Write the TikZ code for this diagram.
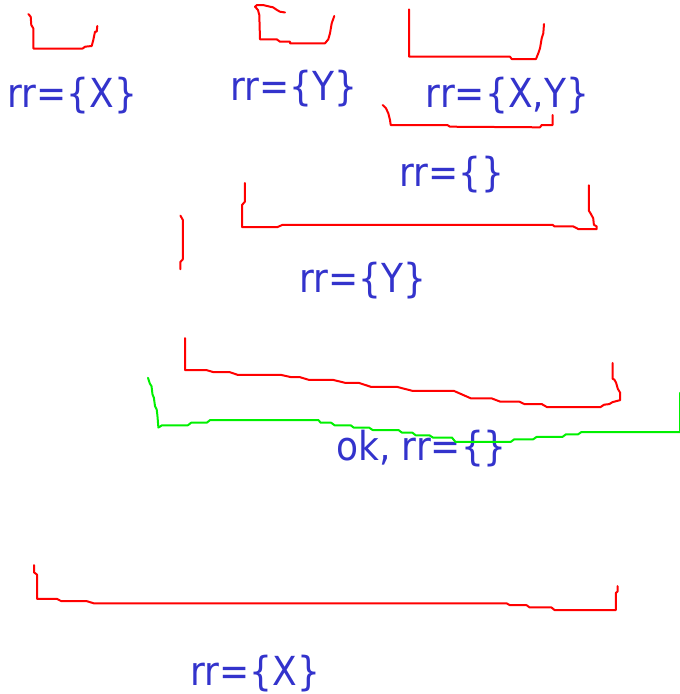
\documentclass[tikz,border=0pt]{standalone}
\usepackage{fontspec}
\newfontfamily\lblfont{DejaVu Sans}[FakeStretch=0.9]
\definecolor{lblblue}{RGB}{51,51,204}
\definecolor{penred}{RGB}{255,0,0}
\definecolor{pengreen}{RGB}{0,240,0}
\tikzset{
  lbl/.style={font=\lblfont\fontsize{40}{44}\selectfont, text=lblblue, inner sep=0pt, anchor=center},
  redpen/.style={draw=penred, line width=2pt, line join=round, line cap=round},
  greenpen/.style={draw=pengreen, line width=2pt, line join=round, line cap=round}
}
\begin{document}
\begin{tikzpicture}[x=1pt,y=-1pt]
\useasboundingbox (0,0) rectangle (680,694);
% labels
\node[lbl] (t1) at (72.5,96) {rr=\{X\}};
\node[lbl] (t2) at (293.5,89) {rr=\{Y\}};
\node[lbl] (t3) at (507.5,96) {rr=\{X,Y\}};
\node[lbl] (t4) at (451.5,175) {rr=\{\}};
\node[lbl] (t5) at (362.5,281) {rr=\{Y\}};
\node[lbl] (t6) at (421.5,449) {ok, rr=\{\}};
\node[lbl] (t7) at (255.5,674) {rr=\{X\}};
% stroke 1
\draw[redpen] (28.3,14) -- (30.7,16.7) -- (31.3,25) -- (33.3,28.3) -- (33.3,48.5) -- (82.7,48.5) -- (85,46.7) -- (91.7,46) -- (93.3,40) -- (95,31.7) -- (96.7,31.7) -- (97.3,26);
% stroke 2
\draw[redpen] (285,12.5) -- (280,11.7) -- (277,10) -- (273,7.3) -- (270,6.7) -- (263,5) -- (257,5) -- (255,6.7) -- (258,10) -- (259.3,15) -- (260,39.3) -- (276.7,39.3) -- (280,41.7) -- (290,41.7) -- (290,43.3) -- (325,43.3) -- (328.3,39.3) -- (330,33.3) -- (331.7,23.3) -- (334.3,16);
% stroke 3
\draw[redpen] (409,9.3) -- (409,56.7) -- (510,56.7) -- (511.7,59) -- (536,59) -- (538.3,53.3) -- (540,48.3) -- (541.7,38.3) -- (543.3,33.3) -- (544,24);
% stroke 4
\draw[redpen] (382.7,105) -- (386,108.3) -- (388.3,113.3) -- (390,120) -- (390.7,125) -- (447.3,125) -- (450,126.7) -- (540,127.3) -- (541.7,125) -- (552.7,125) -- (552.7,115);
% stroke 5
\draw[redpen] (180.4,215.6) -- (182.8,219.8) -- (182.8,259.3) -- (180.4,262) -- (180.4,269.2);
% stroke 6
\draw[redpen] (244.8,183) -- (244.8,201.8) -- (242,205) -- (242,227.1) -- (277.4,227.1) -- (282.6,224.8) -- (552.6,224.8) -- (554.4,226.4) -- (573.3,226.4) -- (578.4,229.1) -- (596.7,229.1) -- (596.7,226.4) -- (593.9,224.8) -- (593.2,218.2) -- (590.5,213.3) -- (588.8,210.6) -- (588.8,185.3);
% stroke 7
\draw[redpen] (185,338) -- (185,370.2) -- (206.8,370.2) -- (213.7,372.2) -- (229.9,372.2) -- (237.8,374.9) -- (281,374.9) -- (291.4,377.2) -- (300,377.2) -- (308.7,379.8) -- (332.8,379.8) -- (344.9,382.8) -- (358.7,382.8) -- (370.8,386.8) -- (396.7,386.8) -- (412.3,390.8) -- (453.7,390.8) -- (471,398.4) -- (491.7,398.4) -- (500.4,401.7) -- (519.4,401.7) -- (524.5,404.1) -- (541.8,404.1) -- (547,407.1) -- (600.5,407.1) -- (604,404.7) -- (609.2,404.1) -- (612.6,402.1) -- (620.2,400.1) -- (620.2,392.8) -- (617.8,388.8) -- (616.1,382.8) -- (614.3,379.5) -- (612.6,378.8) -- (612.6,362.9);
% stroke 8 (green)
\draw[greenpen] (148,377.8) -- (149.8,383.5) -- (151.5,386.1) -- (152.5,394.4) -- (153.9,397.8) -- (155,406.1) -- (156.7,409.4) -- (157.4,415.4) -- (158.4,427.6) -- (161.9,425.3) -- (187.8,425.3) -- (191.2,422.7) -- (206.8,422.7) -- (210.2,420) -- (318.3,420) -- (320.7,422.7) -- (331.1,422.7) -- (334.6,425.3) -- (350.8,425.3) -- (353.6,427.6) -- (369.1,427.6) -- (372.6,430) -- (398.5,430) -- (401.9,432.6) -- (412.3,432.6) -- (415.7,435.3) -- (429.5,435.3) -- (433,437.6) -- (452,437.6) -- (455.4,441.9) -- (510.7,441.9) -- (514.2,439.3) -- (533.2,439.3) -- (536.6,436.9) -- (562.5,436.9) -- (566,434.3) -- (578.1,434.3) -- (581.5,432) -- (680,432) -- (680,392.8);
% stroke 9
\draw[redpen] (34,565) -- (34,572.3) -- (37,574.6) -- (37,598.8) -- (56.7,598.8) -- (61,601) -- (86.3,601) -- (93.7,603.3) -- (506.5,603.3) -- (510,605.2) -- (526.6,605.2) -- (529.6,607.4) -- (551.4,607.4) -- (554.5,610) -- (615.8,610) -- (615.8,593) -- (617.5,591.5) -- (617.5,586);
\end{tikzpicture}
\end{document}
